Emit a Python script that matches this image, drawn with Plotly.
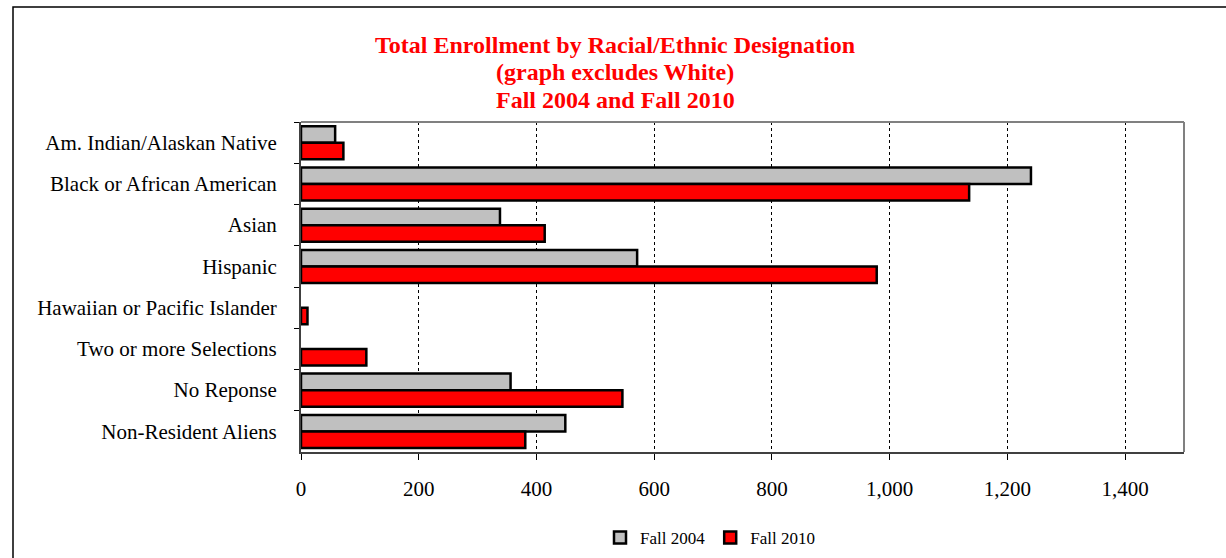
import plotly.graph_objects as go

categories = ["Am. Indian/Alaskan Native", "Black or African American", "Asian", "Hispanic",
              "Hawaiian or Pacific Islander", "Two or more Selections", "No Reponse",
              "Non-Resident Aliens"]
fall_2004 = [58, 1240, 338, 571, None, None, 356, 449]
fall_2010 = [72, 1135, 414, 978, 11, 111, 546, 381]
x_ticks = [0, 200, 400, 600, 800, 1000, 1200, 1400]
x_tick_labels = ["0", "200", "400", "600", "800", "1,000", "1,200", "1,400"]
title_lines = ["Total Enrollment by Racial/Ethnic Designation",
               "(graph excludes White)",
               "Fall 2004 and Fall 2010"]

W, H = 1226, 558
L, R, T, B = 301, 42, 122, 106
PW, PH = W - L - R, H - T - B

def px_x(p):
    return (p - L) / PW

def px_y(p):
    return (H - B - p) / PH

font_family = "Liberation Serif, Times New Roman, serif"

fig = go.Figure()
fig.add_trace(go.Bar(y=categories, x=fall_2004, orientation="h", name="Fall 2004",
                     marker=dict(color="#C0C0C0", line=dict(color="black", width=2.5))))
fig.add_trace(go.Bar(y=categories, x=fall_2010, orientation="h", name="Fall 2010",
                     marker=dict(color="#FF0000", line=dict(color="black", width=2.5))))

annotations = []
for line, ypx in zip(title_lines, [45, 72, 100]):
    annotations.append(dict(text="<b>" + line + "</b>", xref="paper", yref="paper",
                            x=px_x(615), y=px_y(ypx), xanchor="center", yanchor="middle",
                            showarrow=False,
                            font=dict(family=font_family, size=24, color="#FF0000")))

fig.update_layout(
    width=W, height=H,
    margin=dict(l=L, r=R, t=T, b=B, autoexpand=False),
    paper_bgcolor="white", plot_bgcolor="white",
    barmode="group", bargap=0.2, bargroupgap=0,
    font=dict(family=font_family, color="black", size=21),
    annotations=annotations,
    xaxis=dict(range=[0, 1500], tickvals=x_ticks, ticktext=x_tick_labels,
               showgrid=True, gridcolor="black", griddash="dot", gridwidth=1,
               showline=True, linecolor="#404040", linewidth=2,
               ticks="outside", ticklen=6, tickcolor="black",
               ticklabelstandoff=11, zeroline=False, automargin=False,
               tickfont=dict(size=21)),
    yaxis=dict(autorange="reversed", showline=True, linecolor="#404040", linewidth=2,
               ticks="outside", ticklen=5, tickcolor="black", tickson="boundaries",
               ticklabelstandoff=18, showgrid=False, automargin=False,
               tickfont=dict(size=21)),
    showlegend=True,
    legend=dict(orientation="h", x=px_x(710), xanchor="center", y=px_y(538), yanchor="middle",
                font=dict(size=17), itemwidth=30, traceorder="normal"),
    shapes=[
        dict(type="line", xref="paper", yref="paper", x0=0, x1=1, y0=1, y1=1,
             line=dict(color="#808080", width=2)),
        dict(type="line", xref="paper", yref="paper", x0=1, x1=1, y0=0, y1=1,
             line=dict(color="#808080", width=2)),
        dict(type="rect", xref="paper", yref="paper", x0=px_x(13), x1=px_x(1240),
             y0=px_y(570), y1=px_y(7), line=dict(color="black", width=1.5),
             fillcolor="rgba(0,0,0,0)", layer="below"),
    ],
)

fig.write_html("out.html", config={"displayModeBar": False},
               post_script="document.body.style.margin='0';document.body.style.overflow='hidden';")
